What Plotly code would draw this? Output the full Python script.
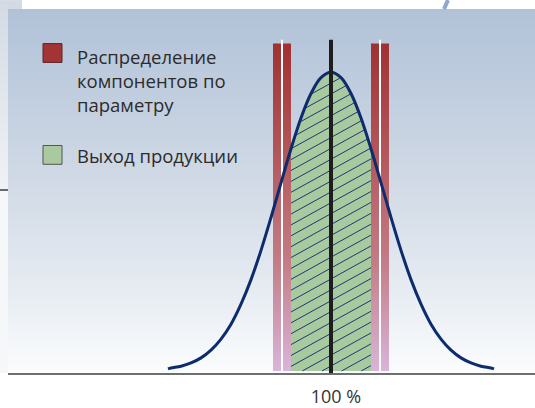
import base64, struct, zlib
import plotly.graph_objects as go

# ---------------- data ----------------
curve_x = [67.4, 68, 70, 72, 74, 76, 78, 80, 82, 84, 86, 88, 90, 92, 94, 96, 98, 100,
           102, 104, 106, 108, 110, 112, 114, 116, 118, 120, 122, 124, 126, 128, 130, 132, 132.6]
curve_y = [0.007, 0.010, 0.016, 0.027, 0.044, 0.070, 0.107, 0.157, 0.224, 0.306, 0.404, 0.514,
           0.630, 0.744, 0.847, 0.929, 0.982, 1.000,
           0.982, 0.929, 0.847, 0.744, 0.630, 0.514, 0.404, 0.306, 0.224, 0.157, 0.107, 0.070,
           0.044, 0.027, 0.016, 0.010, 0.007]
yield_range = [92.0, 108.0]            # green hatched "Выход продукции"
bar_left = [88.4, 92.0]                # component distribution bars
bar_right = [108.0, 111.6]
bar_top = 1.096
limit_x = [90.2, 109.8]                # white limit lines
limit_top = 1.109
center_x = 100
center_top = 1.109
tick_vals = [100]
tick_text = ["100 %"]
legend_labels = ["Распределение<br>компонентов по<br>параметру", "Выход продукции"]

# ---------------- geometry helpers ----------------
W, H = 535, 408
L, R, T, B = 8, 0, 9, 31
PW, PH = W - L - R, H - T - B
XR = [35.4, 140.8]
YR = [-0.0066, 1.2119]
def px(x): return (x - L) / PW
def py(y): return (H - B - y) / PH

def hex2rgb(h):
    h = h.lstrip('#'); return tuple(int(h[i:i+2], 16) for i in (0, 2, 4))

def grad_png(stops, n):
    rows = []
    for i in range(n):
        t = i / (n - 1)
        for j in range(len(stops) - 1):
            if stops[j][0] <= t <= stops[j+1][0]:
                a, b = stops[j], stops[j+1]
                f = (t - a[0]) / (b[0] - a[0]) if b[0] > a[0] else 0
                ca, cb = hex2rgb(a[1]), hex2rgb(b[1])
                rows.append(tuple(round(ca[k] + (cb[k]-ca[k]) * f) for k in range(3)))
                break
    raw = b''.join(b'\x00' + bytes(c) + bytes(c) for c in rows)
    def chunk(t, d):
        return struct.pack('>I', len(d)) + t + d + struct.pack('>I', zlib.crc32(t + d) & 0xffffffff)
    ihdr = struct.pack('>IIBBBBB', 2, n, 8, 2, 0, 0, 0)
    data = b'\x89PNG\r\n\x1a\n' + chunk(b'IHDR', ihdr) + chunk(b'IDAT', zlib.compress(raw)) + chunk(b'IEND', b'')
    return 'data:image/png;base64,' + base64.b64encode(data).decode()

bg_src = grad_png([(0, '#b1c2d8'), (0.52, '#d4dce7'), (0.79, '#e8edf3'), (1, '#fbfcfd')], 368)
strip_src = grad_png([(0, '#d3dae4'), (1, '#eff2f5')], 192)

bar_scale = [[0, '#d9b7dc'], [0.35, '#c47b84'], [1, '#a13131']]

# ---------------- hatch lines clipped to the yield area (decoration) ----------------
def curve_at(x):
    for i in range(len(curve_x) - 1):
        if curve_x[i] <= x <= curve_x[i + 1]:
            f = (x - curve_x[i]) / (curve_x[i + 1] - curve_x[i])
            return curve_y[i] + f * (curve_y[i + 1] - curve_y[i])
    return 0.0

xs_per_px = (XR[1] - XR[0]) / PW
ys_per_px = (YR[1] - YR[0]) / PH
slope_px, spacing_px = 0.56, 11.0
a = slope_px * ys_per_px / xs_per_px          # data slope
step = spacing_px * ys_per_px                  # vertical spacing in data units
hx, hy = [], []
N = 400
samples = [yield_range[0] + (yield_range[1] - yield_range[0]) * i / N for i in range(N + 1)]
c = -a * (yield_range[1] - yield_range[0]) - 0.5 * step
while c < 1.1:
    inside = [x for x in samples
              if 0 <= a * (x - yield_range[0]) + c <= curve_at(x) - 0.004]
    if len(inside) >= 2:
        x0, x1 = inside[0], inside[-1]
        hx += [x0, x1, None]
        hy += [a * (x0 - yield_range[0]) + c, a * (x1 - yield_range[0]) + c, None]
    c += step

fig = go.Figure()

for xs in (bar_left, bar_right):
    fig.add_trace(go.Scatter(
        x=[xs[0], xs[1], xs[1], xs[0], xs[0]], y=[0, 0, bar_top, bar_top, 0],
        fill='toself', mode='lines', line=dict(width=0),
        fillgradient=dict(type='vertical', colorscale=bar_scale, start=0, stop=bar_top),
        hoverinfo='skip', showlegend=False))

for lx in limit_x:
    fig.add_trace(go.Scatter(x=[lx, lx], y=[0, limit_top], mode='lines',
                             line=dict(color='white', width=2), hoverinfo='skip', showlegend=False))

gx = [x for x in curve_x if yield_range[0] <= x <= yield_range[1]]
gy = [y for x, y in zip(curve_x, curve_y) if yield_range[0] <= x <= yield_range[1]]
fig.add_trace(go.Scatter(
    x=gx, y=gy, fill='tozeroy', mode='lines', line=dict(width=0, shape='spline'),
    fillcolor='#a9c99f', hoverinfo='skip', showlegend=False))

fig.add_trace(go.Scatter(x=hx, y=hy, mode='lines', line=dict(color='#1a3878', width=1),
                         hoverinfo='skip', showlegend=False))

fig.add_trace(go.Scatter(x=curve_x, y=curve_y, mode='lines',
                         line=dict(color='#0c2c6e', width=3, shape='spline'),
                         hoverinfo='skip', showlegend=False))

fig.add_trace(go.Scatter(x=[center_x, center_x], y=[-0.01, center_top], mode='lines',
                         line=dict(color='#1e1e1e', width=4), hoverinfo='skip', showlegend=False))

shapes = [
    dict(type='rect', xref='paper', yref='paper', x0=px(0), x1=px(8), y0=py(377), y1=py(192),
         fillcolor='#f6f7f9', line=dict(width=0), layer='below'),
    dict(type='rect', xref='paper', yref='paper', x0=px(8), x1=px(22), y0=py(9), y1=py(0),
         fillcolor='#d3dae4', line=dict(width=0), layer='below'),
    dict(type='line', xref='paper', yref='paper', x0=px(0), x1=px(8), y0=py(192), y1=py(192),
         line=dict(color='#6a6a6a', width=2)),
    dict(type='line', xref='paper', yref='paper', x0=px(448), x1=px(444), y0=py(0), y1=py(9),
         line=dict(color='#8ea7cb', width=4)),
    dict(type='rect', xref='paper', yref='paper', x0=px(43), x1=px(62), y0=py(63), y1=py(44),
         fillcolor='#a33434', line=dict(color='#5a2525', width=1)),
    dict(type='rect', xref='paper', yref='paper', x0=px(43), x1=px(62), y0=py(166), y1=py(147),
         fillcolor='#a9c99f', line=dict(color='#555555', width=1)),
]

annotations = [
    dict(xref='paper', yref='paper', x=px(75), y=py(81), xanchor='left', yanchor='middle',
         text=legend_labels[0], showarrow=False, align='left',
         font=dict(family='Open Sans', size=18.5, color='#2b2b2b')),
    dict(xref='paper', yref='paper', x=px(75), y=py(157), xanchor='left', yanchor='middle',
         text=legend_labels[1], showarrow=False, align='left',
         font=dict(family='Open Sans', size=18.5, color='#2b2b2b')),
]

images = [
    dict(source=bg_src, xref='paper', yref='paper', x=0, y=1, sizex=1, sizey=1,
         sizing='stretch', xanchor='left', yanchor='top', layer='below'),
    dict(source=strip_src, xref='paper', yref='paper', x=px(0), y=py(0), sizex=8 / PW,
         sizey=192 / PH, sizing='stretch', xanchor='left', yanchor='top', layer='below'),
]

fig.update_layout(
    width=W, height=H, margin=dict(l=L, r=R, t=T, b=B),
    paper_bgcolor='white', plot_bgcolor='rgba(0,0,0,0)',
    shapes=shapes, annotations=annotations, images=images, showlegend=False,
    xaxis=dict(range=XR, showline=True, linecolor='#6e6e6e', linewidth=2,
               tickvals=tick_vals, ticktext=tick_text, ticks='', showgrid=False, zeroline=False,
               ticklabelstandoff=6, ticklabelshift=5,
               tickfont=dict(family='Open Sans', size=18, color='#333333'), fixedrange=True),
    yaxis=dict(range=YR, visible=False, fixedrange=True),
)

fig.write_html("out.html", config={'displayModeBar': False},
               post_script="document.body.style.margin='0px';document.body.style.overflow='hidden';")
